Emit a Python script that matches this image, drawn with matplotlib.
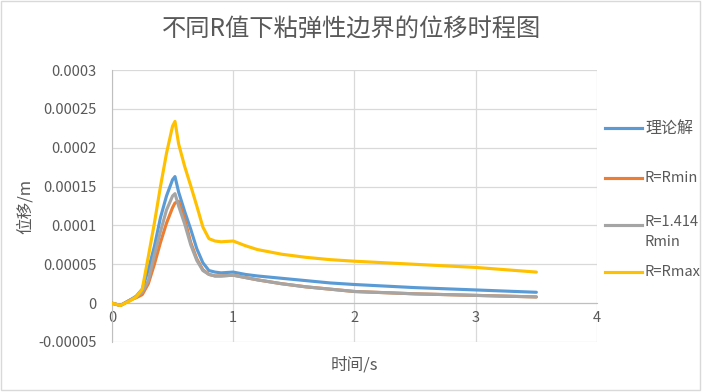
import matplotlib
matplotlib.use("Agg")
import matplotlib.pyplot as plt
from matplotlib.lines import Line2D
from matplotlib.patches import Rectangle
import numpy as np

plt.rcParams['font.family'] = ['Noto Sans CJK SC', 'DejaVu Sans']

# time axis (s)
t = [0, 0.07, 0.15, 0.2, 0.25, 0.3, 0.35, 0.4, 0.45, 0.5, 0.52, 0.55, 0.6, 0.65, 0.7,
     0.75, 0.8, 0.85, 0.9, 1.0, 1.1, 1.2, 1.4, 1.6, 1.8, 2.0, 2.5, 3.0, 3.5]

# displacement, in units of 1e-5 m
theory = [0, -0.3, 0.4, 0.9, 1.8, 4.3, 7.3, 11.0, 13.8, 15.9, 16.3, 14.3, 11.8, 9.5, 7.0,
          5.2, 4.2, 4.0, 3.9, 4.0, 3.7, 3.5, 3.2, 2.9, 2.6, 2.4, 2.0, 1.7, 1.4]
r_min = [0, -0.3, 0.4, 0.7, 1.1, 2.5, 5.0, 7.8, 10.3, 12.3, 12.9, 13.1, 10.8, 7.8, 5.7,
         4.3, 3.7, 3.5, 3.5, 3.6, 3.3, 3.0, 2.5, 2.1, 1.8, 1.5, 1.2, 1.0, 0.8]
r_1414 = [0, -0.3, 0.4, 0.8, 1.4, 2.9, 6.2, 9.2, 12.0, 13.8, 14.1, 12.5, 10.2, 7.5, 5.5,
          4.2, 3.7, 3.5, 3.5, 3.6, 3.3, 3.0, 2.5, 2.1, 1.8, 1.5, 1.2, 1.0, 0.8]
r_max = [0, -0.3, 0.3, 0.8, 1.8, 6.0, 10.3, 15.0, 19.3, 22.8, 23.4, 20.5, 17.6, 15.1, 12.5,
         9.8, 8.3, 8.0, 7.9, 8.0, 7.4, 6.9, 6.3, 5.9, 5.6, 5.4, 5.0, 4.6, 4.0]

names = ["理论解", "R=Rmin", "R=1.414\nRmin", "R=Rmax"]
colors = ["#5B9BD5", "#ED7D31", "#A5A5A5", "#FFC000"]

yticks = [-0.00005, 0, 0.00005, 0.0001, 0.00015, 0.0002, 0.00025, 0.0003]
ytick_labels = ["-0.00005", "0", "0.00005", "0.0001", "0.00015", "0.0002", "0.00025", "0.0003"]
xticks = [0, 1, 2, 3, 4]

text_c = "#595959"
grid_c = "#D9D9D9"

fig = plt.figure(figsize=(7.04, 3.92), dpi=100)
ax = fig.add_axes([0.159, 0.1276, 0.689, 0.6934])

for ys, c in zip([theory, r_min, r_1414, r_max], colors):
    ax.plot(t, np.array(ys) * 1e-5, color=c, lw=2.25, solid_capstyle="round",
            solid_joinstyle="round", zorder=3)

ax.set_xlim(0, 4)
ax.set_ylim(-0.00005, 0.0003)
ax.set_xticks(xticks)
ax.set_yticks(yticks)
ax.set_yticklabels(ytick_labels)
ax.grid(True, color=grid_c, lw=0.9, zorder=0)
ax.tick_params(length=0, labelsize=10.5, colors=text_c)
ax.tick_params(axis="y", pad=11)
ax.tick_params(axis="x", pad=6)

for s in ["top", "right"]:
    ax.spines[s].set_visible(False)
ax.spines["bottom"].set_position(("data", 0))
ax.spines["bottom"].set_color("#BFBFBF")
ax.spines["left"].set_color("#BFBFBF")

ax.set_xlabel("时间/s", fontsize=12, color=text_c)
ax.xaxis.set_label_coords(0.5, -0.055)
ax.set_ylabel("位移/m", fontsize=12, color=text_c)
ax.yaxis.set_label_coords(-0.16, 0.5)

fig.text(0.5, 0.925, "不同R值下粘弹性边界的位移时程图", ha="center", va="center",
         fontsize=17.5, color=text_c)

# legend on the right
leg_y = [128, 178, 225, 272]
for name, c, yp in zip(names, colors, leg_y):
    yf = 1 - yp / 392
    fig.add_artist(Line2D([605 / 704, 642 / 704], [yf, yf], color=c, lw=2.25,
                          transform=fig.transFigure))
    if "\n" in name:
        fig.text(645 / 704, yf + 0.025, name, ha="left", va="top", fontsize=10.5,
                 color=text_c, linespacing=1.5, transform=fig.transFigure)
    else:
        fs = 11.5 if name == "理论解" else 10.5
        fig.text(645 / 704, yf, name, ha="left", va="center", fontsize=fs,
                 color=text_c, transform=fig.transFigure)

fig.add_artist(Rectangle((0.001, 0.005), 0.994, 0.993, fill=False, ec=grid_c, lw=1,
                         transform=fig.transFigure))

fig.savefig("out.png", dpi=100)
